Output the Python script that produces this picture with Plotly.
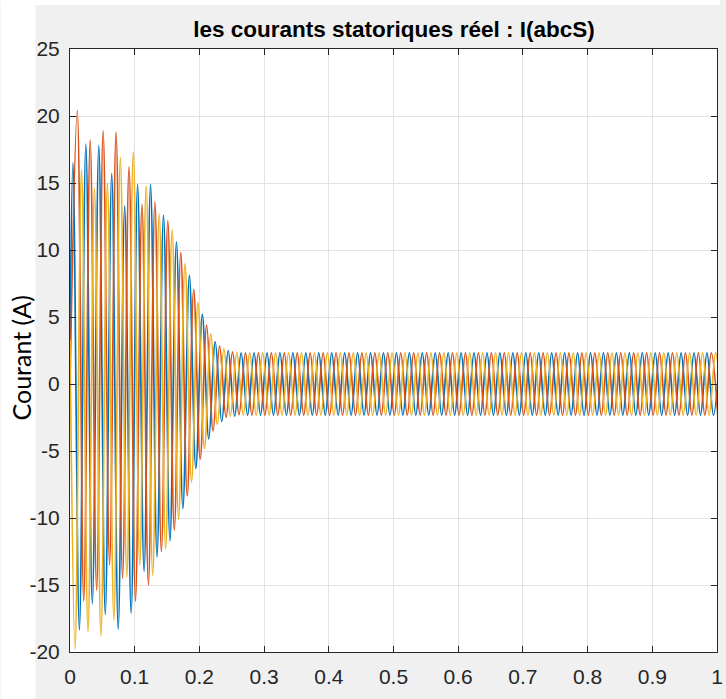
import plotly.graph_objects as go

# ---------------- data ----------------
freq_hz = 50.0                      # supply frequency (one extremum every half period)
first_extremum_s = {"a": 0.0045, "b": 0.0112, "c": 0.0078}
start_value = {"a": 3.3, "b": 0.0, "c": 3.3}    # current at t = 0

# successive extrema (alternating sign) during the start-up transient
peaks_a = [16.5, -18.35, 17.9, -16.4, 17.8, -17.2, 15.7, -18.3, 13.3, -17.1,
           14.9, -14.0, 14.9, -12.9, 12.6, -11.7, 10.6, -9.3, 8.1, -6.3,
           5.2, -4.1, 3.15, -2.8, 2.5, -2.4]
peaks_b = [20.4, -16.2, 18.2, -15.4, 18.9, -13.5, 18.8, -14.5, 16.2, -16.2,
           13.4, -15.0, 13.6, -12.5, 12.2, -10.9, 9.8, -8.35, 7.07, -5.6,
           4.39, -3.5, 2.85, -2.5, 2.4, -2.3]
peaks_c = [-19.8, 16.0, -18.5, 14.6, -18.8, 15.0, -17.6, 16.9, -14.4, 17.3,
           -13.5, 14.8, -14.3, 12.7, -12.3, 11.5, -10.1, 9.0, -7.3, 6.08,
           -4.8, 3.72, -3.0, 2.65, -2.4, 2.35]
steady_amplitude = 2.33             # steady-state peak current after ~0.25 s

series_names = ["ia", "ib", "ic"]
colors = ["#0072BD", "#D95319", "#EDB120"]

x_tick_vals = [0, 0.1, 0.2, 0.3, 0.4, 0.5, 0.6, 0.7, 0.8, 0.9, 1]
x_tick_text = ["0", "0.1", "0.2", "0.3", "0.4", "0.5", "0.6", "0.7", "0.8", "0.9", "1"]
y_tick_vals = [-20, -15, -10, -5, 0, 5, 10, 15, 20, 25]
y_tick_text = ["-20", "-15", "-10", "-5", "0", "5", "10", "15", "20", "25"]

title_text = "les courants statoriques réel : I(abcS)"
ylabel_text = "Courant (A)"
# ----------------------------------------------------------------


def phase_series(key, transient):
    half = 1.0 / (2 * freq_hz)
    t0 = first_extremum_s[key]
    vals = list(transient)
    sign = -1 if vals[-1] > 0 else 1
    while t0 + half * len(vals) < 1.0 + half:
        vals.append(sign * steady_amplitude)
        sign = -sign
    times = [0.0] + [t0 + half * k for k in range(len(vals))]
    return times, [start_value[key]] + vals


fig = go.Figure()
for key, peaks, name, col in zip(["a", "b", "c"], [peaks_a, peaks_b, peaks_c],
                                 series_names, colors):
    t, v = phase_series(key, peaks)
    fig.add_trace(go.Scatter(x=t, y=v, mode="lines", name=name,
                             line=dict(color=col, width=1.7, shape="spline", smoothing=1.0),
                             showlegend=False, hoverinfo="skip"))

W, H = 726, 699
L, R, T, B = 70, 3, 49, 47
pw, ph = W - L - R, H - T - B


def px_x(p):
    return (p - L) / pw


def px_y(p):
    return (H - B - p) / ph


tick_font = dict(family="Liberation Sans Narrow, Arial Narrow, Liberation Sans, Arial, sans-serif",
                 size=21, color="#262626")

axis_common = dict(showline=True, linecolor="#262626", linewidth=1, mirror="ticks",
                   ticks="inside", ticklen=6, tickwidth=1, tickcolor="#262626",
                   showgrid=True, gridcolor="#e2e2e2", gridwidth=1, zeroline=False,
                   tickfont=tick_font, ticklabeloverflow="allow")

fig.update_xaxes(range=[0, 1.0000001], tickmode="array", tickvals=x_tick_vals, ticktext=x_tick_text,
                 ticklabelstandoff=6, **axis_common)
fig.update_yaxes(range=[-20, 25], tickmode="array", tickvals=y_tick_vals, ticktext=y_tick_text,
                 ticklabelstandoff=5, **axis_common)

shapes = [
    dict(type="rect", xref="paper", yref="paper", x0=px_x(0), x1=px_x(35), y0=px_y(H), y1=px_y(0),
         fillcolor="white", line=dict(width=0), layer="below"),
    dict(type="rect", xref="paper", yref="paper", x0=px_x(0), x1=px_x(W), y0=px_y(5), y1=px_y(0),
         fillcolor="white", line=dict(width=0), layer="below"),
]

fig.update_layout(
    width=W, height=H,
    margin=dict(l=L, r=R, t=T, b=B),
    paper_bgcolor="#f0f0f0", plot_bgcolor="white",
    shapes=shapes,
    title=dict(text="<b>" + title_text + "</b>", x=px_x(397), xref="paper", xanchor="center",
               y=1 - 29 / H, yref="container", yanchor="middle",
               font=dict(family="Liberation Sans Narrow, Arial Narrow, Liberation Sans, Arial, sans-serif",
                         size=22.5, color="#000000")),
    annotations=[dict(text=ylabel_text, xref="paper", yref="paper", x=px_x(21), y=px_y(358),
                      xanchor="center", yanchor="middle", textangle=-90, showarrow=False,
                      font=dict(family="Lato, Open Sans, sans-serif", size=25, color="#000000"))],
)

fig.write_html("out.html")
